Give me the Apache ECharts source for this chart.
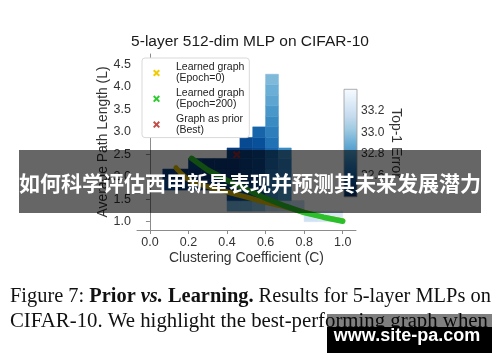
<!DOCTYPE html>
<html><head><meta charset="utf-8">
<script src="https://cdn.jsdelivr.net/npm/echarts@6/dist/echarts.min.js"></script>
<style>html,body{margin:0;padding:0;background:#fff}#c{width:500px;height:362px}</style>
</head><body><div id="c"></div>
<script>
// ---- data ----
const xTicks = [0.0, 0.2, 0.4, 0.6, 0.8, 1.0];
const yTicks = [1.0, 1.5, 2.0, 2.5, 3.0, 3.5, 4.0, 4.5];
const cbTicks = [32.6, 32.8, 33.0, 33.2];
const cEdges = [0, 0.0667, 0.1333, 0.2, 0.2667, 0.3333, 0.4, 0.4667, 0.5333, 0.6, 0.6667, 0.7333, 0.8, 0.8667, 0.9333, 1.0];
const lEdges = [1.0, 1.234, 1.469, 1.703, 1.937, 2.171, 2.406, 2.640, 2.874, 3.109, 3.343, 3.577, 3.811, 4.046, 4.280];
const _ = null;
// Top-1 error per cell; row 0 = bottom (L 1.0-1.234), col 0 = C 0-0.067
const errGrid = [
  [_, _, _, _, _, _, _, _, _, _, _, _, 33.2, 33.22, 33.25],
  [_, _, _, _, _, _, 32.9, 32.9, 32.95, 33.1, 33.12, 33.15, _, _, _],
  [_, _, _, _, _, _, 32.5, 32.5, 32.52, 32.75, 32.8, _, _, _, _],
  [_, 32.5, 32.45, 32.45, 32.45, 32.45, 32.45, 32.45, 32.48, 32.7, 32.75, _, _, _, _],
  [_, 32.45, 32.42, 32.42, 32.42, 32.42, 32.42, 32.45, 32.48, 32.65, 32.7, _, _, _, _],
  [_, _, _, 32.45, 32.42, 32.42, 32.42, 32.45, 32.48, 32.62, 32.7, _, _, _, _],
  [_, _, _, _, _, _, 32.45, 32.45, 32.48, 32.6, 32.75, _, _, _, _],
  [_, _, _, _, _, _, _, 32.5, 32.52, 32.65, _, _, _, _, _],
  [_, _, _, _, _, _, _, _, 32.6, 32.7, _, _, _, _, _],
  [_, _, _, _, _, _, _, _, _, 32.75, _, _, _, _, _],
  [_, _, _, _, _, _, _, _, _, 32.8, _, _, _, _, _],
  [_, _, _, _, _, _, _, _, _, 32.86, _, _, _, _, _],
  [_, _, _, _, _, _, _, _, _, 32.9, _, _, _, _, _],
  [_, _, _, _, _, _, _, _, _, 32.95, _, _, _, _, _]
];
const epoch0C = [0.135, 0.16, 0.19, 0.22, 0.3, 0.4, 0.5, 0.6, 0.7, 0.8, 0.9, 1.0];
const epoch0L = [2.20, 2.08, 1.97, 1.88, 1.78, 1.66, 1.55, 1.43, 1.33, 1.21, 1.10, 1.02];
const epoch200C = [0.216, 0.26, 0.3, 0.34, 0.4, 0.5, 0.6, 0.7, 0.8, 0.9, 1.0];
const epoch200L = [2.41, 2.27, 2.15, 2.06, 1.92, 1.72, 1.52, 1.35, 1.20, 1.10, 1.01];
const priorBest = [[0.45, 2.49]];
const cbRange = [32.4, 33.4];
const bluesR = ['#08306b', '#08519c', '#2171b5', '#4292c6', '#6baed6', '#9ecae1', '#c6dbef', '#deebf7', '#f7fbff'];
const names = ['Learned graph\n(Epoch=0)', 'Learned graph\n(Epoch=200)', 'Graph as prior\n(Best)'];

// ---- build ----
const cells = [];
errGrid.forEach((row, r) => row.forEach((v, c) => {
  if (v !== null) cells.push([cEdges[c], cEdges[c + 1], lEdges[r], lEdges[r + 1], v]);
}));
const zip = (a, b) => a.map((v, i) => [v, b[i]]);
const xPath = 'path://M0,2 L2,0 L5,3 L8,0 L10,2 L7,5 L10,8 L8,10 L5,7 L2,10 L0,8 L3,5 Z';
const sans = 'Liberation Sans, Arial, sans-serif';
const axisCol = '#8c8c8c', labCol = '#333';

const chart = echarts.init(document.getElementById('c'), null, {renderer: 'canvas'});
chart.setOption({
  animation: false,
  backgroundColor: '#fff',
  title: {text: '5-layer 512-dim MLP on CIFAR-10', left: 'center', top: 29,
    textStyle: {fontFamily: sans, fontSize: 15.5, fontWeight: 'normal', color: '#1a1a1a'}},
  grid: [
    {left: 137, right: 144, top: 54, bottom: 132},
    {left: 344, width: 13, top: 89.3, height: 107.5}
  ],
  xAxis: [
    {gridIndex: 0, type: 'value', min: -0.067, max: 1.069,
      name: 'Clustering Coefficient (C)', nameLocation: 'middle', nameGap: 21,
      nameTextStyle: {fontFamily: sans, fontSize: 13.9, color: labCol},
      axisLine: {show: true, lineStyle: {color: axisCol, width: 1}},
      axisTick: {show: true, length: 4, lineStyle: {color: axisCol}, customValues: xTicks},
      axisLabel: {customValues: xTicks, formatter: v => v.toFixed(1), fontFamily: sans, fontSize: 12.5, color: labCol, margin: 6},
      splitLine: {show: false}},
    {gridIndex: 1, type: 'value', min: 0, max: 1, show: false}
  ],
  yAxis: [
    {gridIndex: 0, type: 'value', min: 0.815, max: 4.73,
      name: 'Average Path Length (L)', nameLocation: 'middle', nameGap: 25,
      nameTextStyle: {fontFamily: sans, fontSize: 13.9, color: labCol},
      axisLine: {show: true, lineStyle: {color: axisCol, width: 1}},
      axisTick: {show: true, length: 4, lineStyle: {color: axisCol}, customValues: yTicks},
      axisLabel: {customValues: yTicks, formatter: v => v.toFixed(1), fontFamily: sans, fontSize: 12.5, color: labCol, margin: 6},
      splitLine: {show: false}},
    {gridIndex: 1, type: 'value', min: cbRange[0], max: cbRange[1], position: 'right',
      name: 'Top-1 Error', nameLocation: 'middle', nameGap: 32, nameRotate: -90,
      nameTextStyle: {fontFamily: sans, fontSize: 13.9, color: labCol},
      axisLine: {show: false},
      axisTick: {show: true, length: 3, lineStyle: {color: axisCol}, customValues: cbTicks},
      axisLabel: {customValues: cbTicks, formatter: v => v.toFixed(1), fontFamily: sans, fontSize: 12, color: labCol, margin: 4},
      splitLine: {show: false}}
  ],
  visualMap: {type: 'continuous', show: false, min: cbRange[0], max: cbRange[1], dimension: 4, seriesIndex: 0,
    inRange: {color: bluesR}},
  legend: {
    orient: 'vertical', left: 142, top: 58,
    data: names.map(n => ({name: n, icon: xPath})),
    itemWidth: 7, itemHeight: 7, itemGap: 3.8,
    padding: [4, 5, 2, 11],
    backgroundColor: '#fff', borderColor: '#d9d9d9', borderWidth: 1, borderRadius: 3,
    textStyle: {fontFamily: sans, fontSize: 10.5, lineHeight: 11, color: '#222', padding: [0, 0, 0, 11]}
  },
  series: [
    {type: 'custom', xAxisIndex: 0, yAxisIndex: 0, data: cells, encode: {x: [0, 1], y: [2, 3]}, z: 1,
      renderItem: (params, api) => {
        const p0 = api.coord([api.value(0), api.value(3)]);
        const p1 = api.coord([api.value(1), api.value(2)]);
        const col = api.visual('color');
        return {type: 'rect', shape: {x: p0[0], y: p0[1], width: p1[0] - p0[0], height: p1[1] - p0[1]},
          style: {fill: col, stroke: col, lineWidth: 0.5}};
      }},
    {type: 'line', name: names[0], data: zip(epoch0C, epoch0L), symbol: 'none', z: 3,
      itemStyle: {color: '#f2cc00'}, lineStyle: {color: '#d9b600', width: 5, cap: 'round', join: 'round'}},
    {type: 'line', name: names[1], data: zip(epoch200C, epoch200L), symbol: 'none', z: 4,
      itemStyle: {color: '#2ecc2e'}, lineStyle: {color: '#2bbf2b', width: 5.5, cap: 'round', join: 'round'}},
    {type: 'scatter', name: names[2], data: priorBest, symbol: xPath, symbolSize: 8, z: 5,
      itemStyle: {color: '#b3221c'}},
    {type: 'custom', xAxisIndex: 1, yAxisIndex: 1, data: [[0, cbRange[0], 1, cbRange[1]]], silent: true,
      renderItem: (params, api) => {
        const p0 = api.coord([api.value(0), api.value(3)]);
        const p1 = api.coord([api.value(2), api.value(1)]);
        const stops = bluesR.map((c, i) => ({offset: 1 - i / (bluesR.length - 1), color: c}));
        return {type: 'rect', shape: {x: p0[0], y: p0[1], width: p1[0] - p0[0], height: p1[1] - p0[1]},
          style: {fill: new echarts.graphic.LinearGradient(0, 0, 0, 1, stops.reverse()), stroke: '#9a9a9a', lineWidth: 0.8}};
      }}
  ],
  graphic: [
    {type: 'text', left: 10, top: 287, z: 50, style: {
      text: '{n|Figure 7: }{b|Prior }{bi|vs.}{b| Learning.}{n| Results for 5-layer MLPs on}',
      rich: {
        n: {fontFamily: 'Liberation Serif', fontSize: 20.4, fill: '#111'},
        b: {fontFamily: 'Liberation Serif', fontSize: 20.4, fontWeight: 'bold', fill: '#111'},
        bi: {fontFamily: 'Liberation Serif', fontSize: 20.4, fontWeight: 'bold', fontStyle: 'italic', fill: '#111'}
      }}},
    {type: 'text', left: 10, top: 311, z: 50, style: {
      text: 'CIFAR-10. We highlight the best-performing graph when',
      fontFamily: 'Liberation Serif', fontSize: 20.8, fill: '#111'}},
    {type: 'rect', shape: {x: 19, y: 150, width: 462, height: 63}, z: 100, style: {fill: 'rgba(0,0,0,0.6)'}},
    {type: 'text', x: 250, y: 183, z: 101, style: {text: '如何科学评估西甲新星表现并预测其未来发展潜力',
      fontFamily: 'Noto Sans CJK SC', fontWeight: 'bold', fontSize: 21, fill: '#fff', align: 'center', verticalAlign: 'middle'}},
    {type: 'rect', shape: {x: 327, y: 314, width: 165, height: 13}, z: 100, style: {fill: 'rgba(0,0,0,0.5)'}},
    {type: 'rect', shape: {x: 327, y: 327, width: 165, height: 26}, z: 100, style: {fill: '#000'}},
    {type: 'text', x: 407, y: 336, z: 101, style: {text: 'www.site-pa.com',
      fontFamily: sans, fontWeight: 'bold', fontSize: 18, fill: '#fff', align: 'center', verticalAlign: 'middle'}}
  ]
});
</script></body></html>
